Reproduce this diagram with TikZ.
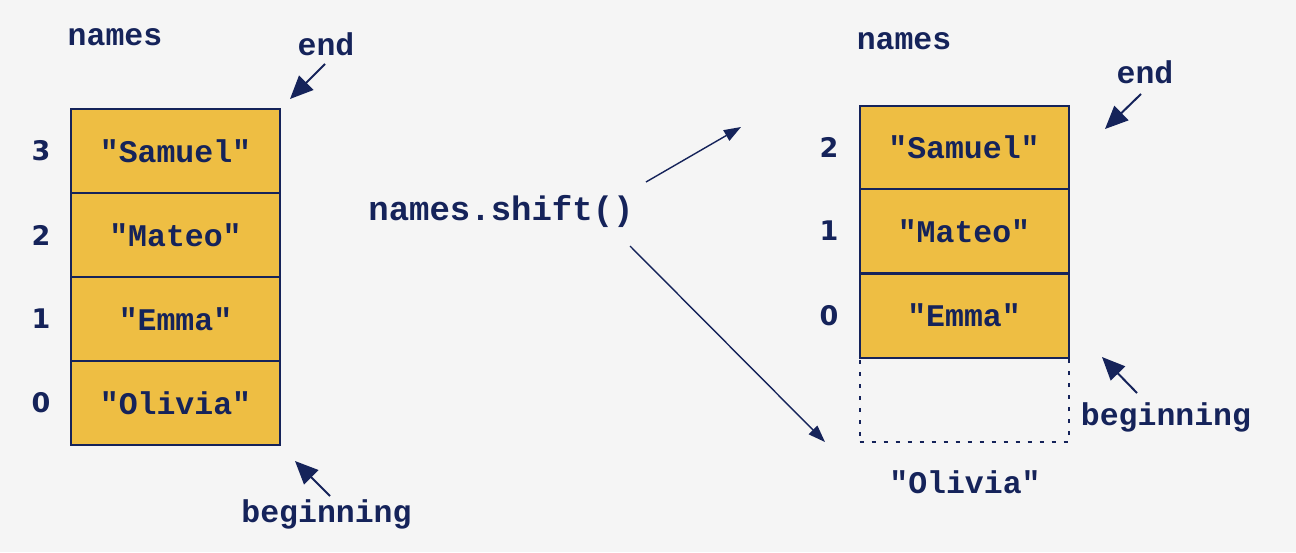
\documentclass[tikz,border=0pt]{standalone}
\usepackage{fontspec}
\setmonofont{Liberation Mono}
\newfontfamily\digitfont{DejaVu Sans}
\usetikzlibrary{arrows.meta}
\definecolor{bgc}{HTML}{F5F5F5}
\definecolor{cellc}{HTML}{EEBE43}
\definecolor{inkc}{HTML}{15235A}
\tikzset{
  cell/.style={draw=inkc, line width=2pt, fill=cellc, minimum width=209pt, minimum height=84pt, inner sep=0pt, text=inkc, font=\ttfamily\bfseries\fontsize{31.5}{36}\selectfont},
  ghost/.style={draw=inkc, line width=2pt, dash pattern=on 4pt off 8pt, minimum width=209pt, minimum height=84pt, inner sep=0pt},
  idx/.style={text=inkc, inner sep=0pt, font=\digitfont\bfseries\fontsize{27}{30}\selectfont},
  lbl/.style={text=inkc, inner sep=0pt, anchor=base, font=\ttfamily\bfseries\fontsize{31.5}{36}\selectfont},
  code/.style={text=inkc, inner sep=0pt, anchor=base, font=\ttfamily\bfseries\fontsize{34}{38}\selectfont},
  bigarrow/.style={draw=inkc, line width=2pt, -{Triangle[length=23pt,width=20pt]}},
  thinarrow/.style={draw=inkc, line width=1.4pt, -{Triangle[length=17pt,width=12pt]}},
}
\begin{document}
\begin{tikzpicture}[x=1pt,y=-1pt]
\fill[bgc] (0,0) rectangle (1296,552);
\useasboundingbox (0,0) rectangle (1296,552);

% left stack
\node[cell] (l3) at (175.5,151) {"Samuel"};
\node[cell] (l2) at (175.5,235) {"Mateo"};
\node[cell] (l1) at (175.5,319) {"Emma"};
\node[cell] (l0) at (175.5,403) {"Olivia"};
\node[idx] (i3) at (41,151) {3};
\node[idx] (i2) at (41,235) {2};
\node[idx] (i1) at (41,319) {1};
\node[idx] (i0) at (41,403) {0};
\node[lbl] (lnames) at (115,45) {names};
\node[lbl] (lend) at (326,55) {end};
\node[lbl] (lbeg) at (326.5,522) {beginning};
\coordinate (lendt) at (325,64);
\coordinate (lendh) at (290,99);
\coordinate (lbegt) at (330,496);
\coordinate (lbegh) at (295,461);
\draw[bigarrow] (lendt) -- (lendh);
\draw[bigarrow] (lbegt) -- (lbegh);

% middle
\node[code] (shift) at (501,220) {names.shift()};
\coordinate (ut) at (646,182);
\coordinate (uh) at (741,127);
\coordinate (dt) at (630,246);
\coordinate (dh) at (825,442);
\draw[thinarrow] (ut) -- (uh);
\draw[thinarrow] (dt) -- (dh);

% right stack
\node[ghost] (gone) at (964,400) {};
\node[cell] (r2) at (964,147.5) {"Samuel"};
\node[cell] (r1) at (964,231) {"Mateo"};
\node[cell] (r0) at (964,315.5) {"Emma"};
\node[idx] (j2) at (829,147.5) {2};
\node[idx] (j1) at (829,231) {1};
\node[idx] (j0) at (829,315.5) {0};
\node[lbl] (rnames) at (904,49) {names};
\node[lbl] (rend) at (1145,83) {end};
\node[lbl] (rbeg) at (1166,425) {beginning};
\node[lbl] (rolivia) at (965,493) {"Olivia"};
\coordinate (rendt) at (1141,94);
\coordinate (rendh) at (1105,129);
\coordinate (rbegt) at (1137,393);
\coordinate (rbegh) at (1102,357);
\draw[bigarrow] (rendt) -- (rendh);
\draw[bigarrow] (rbegt) -- (rbegh);
\end{tikzpicture}
\end{document}
